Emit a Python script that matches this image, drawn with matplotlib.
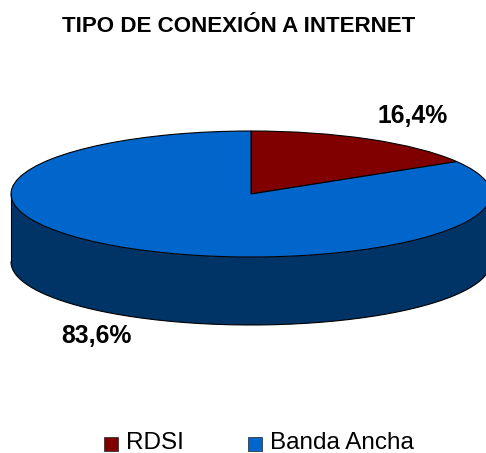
import numpy as np
import matplotlib
matplotlib.use("Agg")
from matplotlib import pyplot as plt
from matplotlib.patches import Wedge, Rectangle
from matplotlib.transforms import Affine2D

# Datos
categorias = ['RDSI', 'Banda Ancha']
valores = [16.4, 83.6]
etiquetas = ['16,4%', '83,6%']
colores = ['#800000', '#0066CC']
color_lateral = '#003366'
titulo = 'TIPO DE CONEXIÓN A INTERNET'

plt.rcParams['font.family'] = ['Liberation Sans', 'DejaVu Sans']

fig = plt.figure(figsize=(4.86, 4.53), dpi=100)
ax = fig.add_axes([0, 0, 1, 1])
ax.set_xlim(0, 486)
ax.set_ylim(453, 0)
ax.axis('off')

# geometria de la elipse en pixeles
cx, cy = 251, 194
rx, ry = 240, 63
prof = 68

# lateral del cilindro
t = np.linspace(0, np.pi, 200)
xs = cx + rx * np.cos(t)
ys = cy + ry * np.sin(t)
lado = np.concatenate([np.column_stack([xs, ys]),
                       np.column_stack([xs[::-1], ys[::-1] + prof])])
ax.fill(lado[:, 0], lado[:, 1], color=color_lateral, lw=0)
ax.plot(xs, ys + prof, color='black', lw=0.8)
ax.plot([cx - rx, cx - rx], [cy, cy + prof], color='black', lw=0.8)
ax.plot([cx + rx, cx + rx], [cy, cy + prof], color='black', lw=0.8)

# tapa: la primera porcion empieza arriba y gira en sentido horario
inicio = 90.0
total = sum(valores)
esc = Affine2D().scale(rx, -ry).translate(cx, cy) + ax.transData
for valor, color in zip(valores, colores):
    fin = inicio - 360.0 * valor / total
    ax.add_patch(Wedge((0, 0), 1, fin, inicio, facecolor=color, edgecolor='black',
                       lw=0.8, transform=esc))
    inicio = fin

ax.text(239, 26.5, titulo, fontsize=16.1, fontweight='bold', ha='center', va='center')
ax.text(412.5, 116, etiquetas[0], fontsize=17.8, fontweight='bold', ha='center', va='center')
ax.text(96.5, 336, etiquetas[1], fontsize=17.8, fontweight='bold', ha='center', va='center')

# leyenda
for x0, x_txt, cat, color in zip([103.5, 247.5], [126, 270], categorias, colores):
    ax.add_patch(Rectangle((x0, 437), 14, 14, facecolor=color, edgecolor='#222222', lw=0.5))
    ax.text(x_txt, 443, cat, fontsize=17.5, ha='left', va='center')

fig.savefig('out.png', dpi=100)
